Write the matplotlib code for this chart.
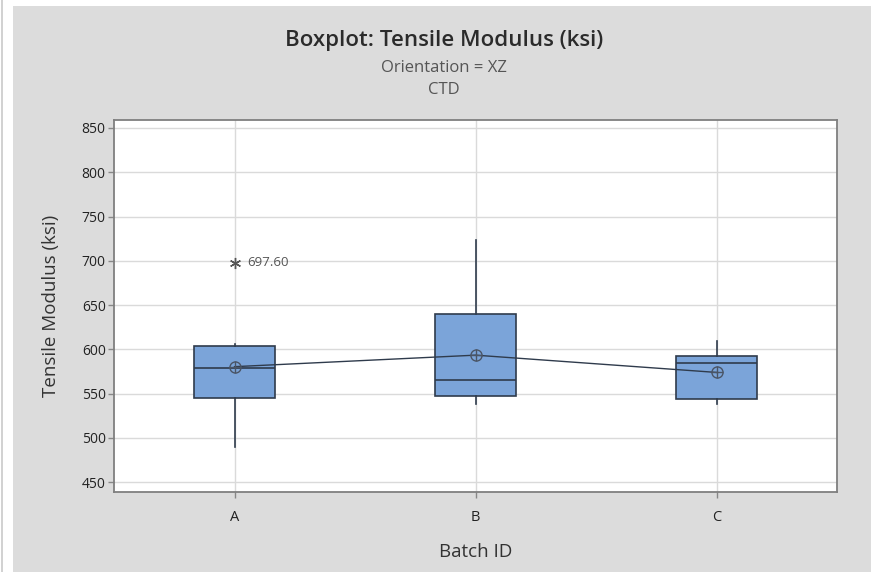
"""Boxplot of tensile modulus by batch (Minitab style)"""

import matplotlib
matplotlib.use('Agg')
from matplotlib import pyplot as plt
from matplotlib.patches import Rectangle

# Summary values (ksi)
batches = ['A', 'B', 'C']
q1 = [545.0, 547.5, 544.5]
medians = [579.0, 565.0, 585.0]
q3 = [604.0, 640.0, 592.5]
whisker_low = [490.0, 538.0, 538.0]
whisker_high = [606.0, 724.0, 609.0]
means = [580.5, 593.5, 574.0]
outliers = [[697.60], [], []]
y_ticks = [450, 500, 550, 600, 650, 700, 750, 800, 850]

plt.rcParams['font.family'] = ['Open Sans', 'DejaVu Sans']

fig = plt.figure(figsize=(8.71, 5.72), dpi=100)
fig.patch.set_facecolor('white')

# grey panel behind the chart
fig.patches.append(Rectangle((13 / 871, 0), 1 - 13 / 871, 1 - 6 / 572,
                             transform=fig.transFigure, facecolor='#dcdcdc',
                             edgecolor='none', zorder=-10))
fig.patches.append(Rectangle((1 / 871, 0), 2 / 871, 1,
                             transform=fig.transFigure, facecolor='#d2d2d2',
                             edgecolor='none', zorder=-10))

ax = fig.add_axes([114 / 871, 1 - 492 / 572, 723 / 871, 372 / 572])
ax.set_facecolor('white')

positions = list(range(1, len(batches) + 1))
stats = []
for i, b in enumerate(batches):
    stats.append({'label': b, 'q1': q1[i], 'med': medians[i], 'q3': q3[i],
                  'whislo': whisker_low[i], 'whishi': whisker_high[i],
                  'mean': means[i], 'fliers': outliers[i]})

edge = '#2f3b4c'
ax.bxp(stats, positions=positions, widths=0.335, patch_artist=True,
       showmeans=False, showcaps=False, showfliers=False,
       boxprops=dict(facecolor='#7ba4d9', edgecolor=edge, linewidth=1.2),
       medianprops=dict(color=edge, linewidth=1.2),
       whiskerprops=dict(color=edge, linewidth=1.2), zorder=3)

# mean connect line and mean symbols
ax.plot(positions, means, color=edge, linewidth=1.0, zorder=4)
ax.plot(positions, means, linestyle='none', marker='o', markersize=8,
        markerfacecolor='none', markeredgecolor='#4a5566', markeredgewidth=1.0, zorder=5)
ax.plot(positions, means, linestyle='none', marker='+', markersize=8,
        markeredgecolor='#4a5566', markeredgewidth=1.0, zorder=5)

# outliers
for pos, vals in zip(positions, outliers):
    for v in vals:
        ax.plot(pos, v, linestyle='none', marker=(6, 2, 0), markersize=8,
                color='#555555', markeredgewidth=1.0, zorder=5)
        ax.annotate(f'{v:.2f}', (pos, v), xytext=(9, 0), textcoords='offset points',
                    va='center', ha='left', fontsize=9.5, color='#555555')

ax.set_xlim(0.5, 3.5)
ax.set_ylim(439, 859)
ax.set_xticks(positions)
ax.set_xticklabels(batches, fontsize=10.5, color='#222222')
ax.set_yticks(y_ticks)
ax.set_yticklabels([str(t) for t in y_ticks], fontsize=10, color='#222222')
ax.tick_params(axis='both', color='#888888', length=4, width=1)
ax.tick_params(axis='x', pad=9)
ax.tick_params(axis='y', pad=2)

ax.grid(True, color='#dadada', linewidth=1.0, zorder=0)
ax.set_axisbelow(True)
for side in ax.spines.values():
    side.set_color('#7f7f7f')
    side.set_linewidth(1.3)

ax.set_xlabel('Batch ID', fontsize=13.5, color='#333333')
ax.xaxis.set_label_coords(0.5, -0.137)
ax.set_ylabel('Tensile Modulus (ksi)', fontsize=13.5, color='#333333')
ax.yaxis.set_label_coords(-0.075, 0.5)

fig.text(444 / 871, 0.930, 'Boxplot: Tensile Modulus (ksi)', ha='center', va='center',
         fontsize=16, fontweight='semibold', color='#2b2b2b')
fig.text(444 / 871, 0.881, 'Orientation = XZ', ha='center', va='center',
         fontsize=12, color='#555555')
fig.text(444 / 871, 0.843, 'CTD', ha='center', va='center',
         fontsize=12, color='#555555')

plt.savefig('out.png', dpi=100, facecolor=fig.get_facecolor())
